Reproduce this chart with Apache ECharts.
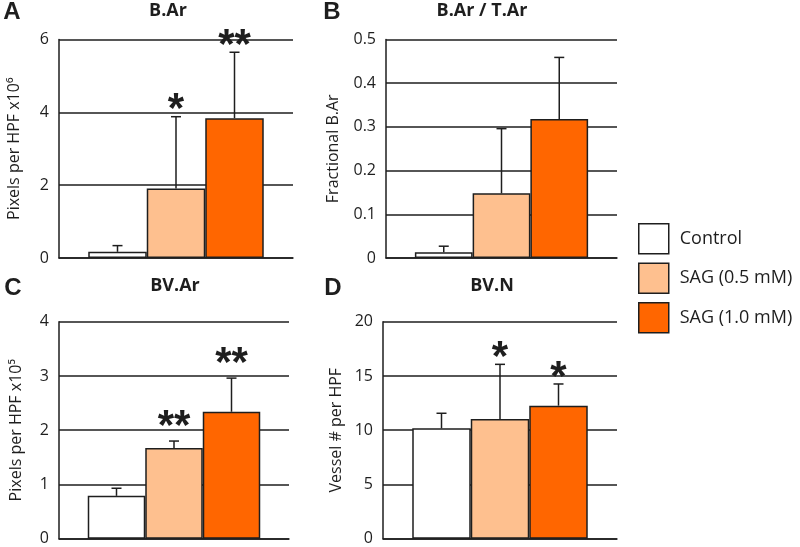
<!DOCTYPE html>
<html><head><meta charset="utf-8">
<script src="https://cdn.jsdelivr.net/npm/echarts@6/dist/echarts.min.js"></script>
<style>html,body{margin:0;padding:0;background:#fff}#c{width:800px;height:547px}</style>
</head><body><div id="c"></div>
<script>
// ---- data ----
const groups = ['Control', 'SAG (0.5 mM)', 'SAG (1.0 mM)'];
const panelLetters = ['A', 'B', 'C', 'D'];
const panelTitles = ['B.Ar', 'B.Ar / T.Ar', 'BV.Ar', 'BV.N'];
const axisNames = ['Pixels per HPF x10\u2076', 'Fractional B.Ar', 'Pixels per HPF x10\u2075', 'Vessel # per HPF'];
const meansA = [0.17, 1.91, 3.84];
const errA = [0.17, 1.97, 1.81];
const starsA = ['', '*', '**'];
const meansB = [0.013, 0.148, 0.318];
const errB = [0.014, 0.148, 0.141];
const starsB = ['', '', ''];
const meansC = [0.79, 1.67, 2.34];
const errC = [0.14, 0.13, 0.62];
const starsC = ['', '**', '**'];
const meansD = [10.17, 11.03, 12.26];
const errD = [1.39, 5.04, 2.0];
const starsD = ['', '*', '*'];
const yMax = [6, 0.5, 4, 20];
const yInterval = [2, 0.1, 1, 5];

// ---- styles / layout ----
const colors = ['#ffffff', '#FEC08F', '#FF6600'];
const ink = '#1e1e1e';
const font = '"Open Sans", "Noto Sans", sans-serif';
const grids = [
  {left: 59, top: 39.5, width: 234, height: 218.5},
  {left: 386, top: 39.5, width: 231, height: 218.5},
  {left: 59, top: 321.7, width: 230, height: 217},
  {left: 383, top: 321.7, width: 234, height: 217}
];
const nameGaps = [37, 45, 35, 39];
const starGaps = [14, 14, 22, 14];
const titlePos = [[168, 2], [482, 2], [175, 277], [492, 277]];
const letterPos = [[12, 0], [332, 0], [13, 276], [333, 276]];
const means = [meansA, meansB, meansC, meansD];
const errs = [errA, errB, errC, errD];
const stars = [starsA, starsB, starsC, starsD];
const GAP = 0.25;

const titles = [];
panelTitles.forEach((t, i) => {
  titles.push({text: t, left: titlePos[i][0], top: titlePos[i][1], textAlign: 'center', padding: 0,
    textStyle: {fontFamily: font, fontWeight: 'bold', fontSize: 18, color: ink}});
  titles.push({text: panelLetters[i], left: letterPos[i][0], top: letterPos[i][1], textAlign: 'center', padding: 0,
    textStyle: {fontFamily: '"Liberation Sans", Arial, sans-serif', fontWeight: 'bold', fontSize: 24, color: ink}});
});

const xAxes = grids.map((g, i) => ({
  type: 'category', gridIndex: i, data: [''],
  axisLine: {lineStyle: {color: ink, width: 1.5}}, axisTick: {show: false}, axisLabel: {show: false}
}));
const yAxes = grids.map((g, i) => ({
  type: 'value', gridIndex: i, min: 0, max: yMax[i], interval: yInterval[i],
  name: axisNames[i], nameLocation: 'middle', nameRotate: 90, nameGap: nameGaps[i],
  nameTextStyle: {fontFamily: font, fontSize: 16, color: ink},
  axisLine: {show: true, lineStyle: {color: ink, width: 1.5}}, axisTick: {show: false},
  axisLabel: {fontFamily: font, fontSize: 16, color: ink, margin: 10},
  splitLine: {lineStyle: {color: ink, width: 1.5}}
}));

const series = [];
grids.forEach((g, p) => {
  groups.forEach((name, k) => {
    series.push({
      type: 'bar', name: name, xAxisIndex: p, yAxisIndex: p,
      data: [means[p][k]], barGap: '0%', barCategoryGap: (GAP * 100) + '%',
      itemStyle: {color: colors[k], borderColor: ink, borderWidth: 1.5},
      emphasis: {disabled: true}, animation: false
    });
  });
  series.push({
    type: 'custom', xAxisIndex: p, yAxisIndex: p, animation: false, z: 5,
    data: groups.map((n, k) => [k, means[p][k], errs[p][k]]),
    renderItem: function (params, api) {
      const k = api.value(0), m = api.value(1), e = api.value(2);
      const base = api.coord([0, m]);
      const band = api.size([1, 0])[0];
      const bw = band * (1 - GAP) / 3;
      const x = base[0] + (k - 1) * bw;
      const y0 = base[1];
      const y1 = api.coord([0, m + e])[1];
      const children = [
        {type: 'line', shape: {x1: x, y1: y0, x2: x, y2: y1}, style: {stroke: ink, lineWidth: 1.5}},
        {type: 'line', shape: {x1: x - 5, y1: y1, x2: x + 5, y2: y1}, style: {stroke: ink, lineWidth: 1.5}}
      ];
      const s = stars[p][k];
      if (s) {
        children.push({type: 'text', x: x, y: y1 - starGaps[p] + 8,
          style: {text: s, fill: ink, fontSize: 42, fontWeight: 'bold', fontFamily: '"Liberation Sans", Arial, sans-serif',
            align: 'center', verticalAlign: 'middle'}});
      }
      return {type: 'group', children: children};
    }
  });
});

const chart = echarts.init(document.getElementById('c'));
chart.setOption({
  animation: false,
  backgroundColor: '#fff',
  title: titles,
  legend: {
    orient: 'vertical', left: 638, top: 223, itemWidth: 30, itemHeight: 30, itemGap: 8, padding: 0,
    data: groups.map((n, k) => ({name: n, icon: 'rect', itemStyle: {color: colors[k], borderColor: ink, borderWidth: 1.5}})),
    textStyle: {fontFamily: font, fontSize: 18, color: ink, padding: [0, 0, 0, 6]},
    selectedMode: false
  },
  grid: grids,
  xAxis: xAxes,
  yAxis: yAxes,
  series: series
});
</script>
</body></html>
